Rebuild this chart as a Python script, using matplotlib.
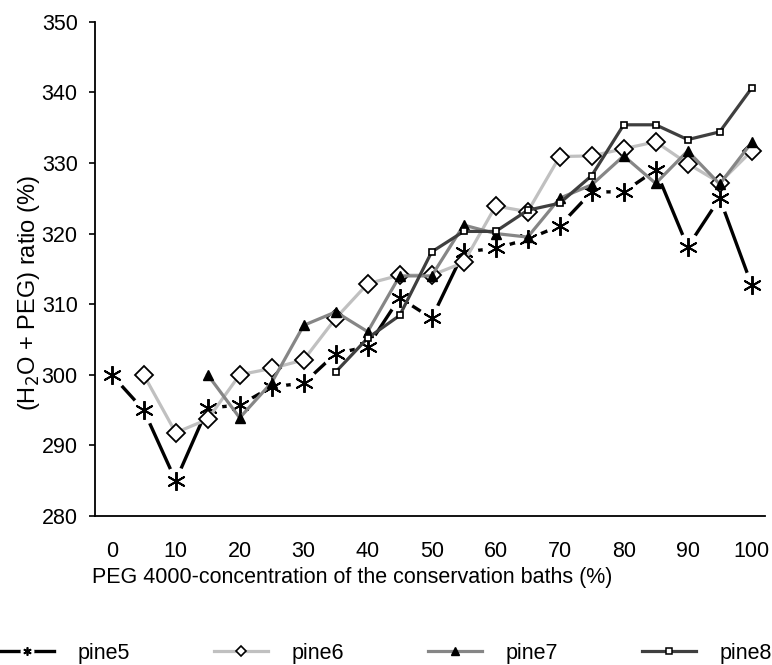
import numpy as np
import matplotlib
matplotlib.use("Agg")
import matplotlib.pyplot as plt
from matplotlib.lines import Line2D
from matplotlib.legend_handler import HandlerTuple

plt.rcParams['font.family'] = ['Liberation Sans', 'DejaVu Sans']

# ==============================
# Data
# ==============================
conc = [0, 5, 10, 15, 20, 25, 30, 35, 40, 45, 50, 55, 60, 65, 70, 75, 80, 85, 90, 95, 100]
nan = np.nan
pine5 = [300, 295, 285, 295.3, 295.7, 298.3, 298.8, 303, 304, 310.9, 308, 317.4, 317.9,
         319.2, 321.1, 325.9, 325.9, 329, 318.1, 325, 312.7]
pine6 = [nan, 300, 291.8, 293.7, 300, 300.9, 302.1, 308, 312.9, 314.1, 314.1, 315.9, 323.9,
         323.1, 330.9, 331, 332, 333, 329.9, 327.2, 331.7]
pine7 = [nan, nan, nan, 300, 293.9, 298.9, 307, 308.9, 306.1, 314, 314, 321.2, 320,
         319.5, 325, 326.9, 331, 327.1, 331.7, 327, 332.9]
pine8 = [nan, nan, nan, nan, nan, nan, nan, 300.4, 305.2, 308.4, 317.4, 320.3, 320.3,
         323.3, 324.3, 328.2, 335.4, 335.4, 333.3, 334.4, 340.6]

y_ticks = [280, 290, 300, 310, 320, 330, 340, 350]
x_ticks = [0, 10, 20, 30, 40, 50, 60, 70, 80, 90, 100]

FS = 15.5
ASTER = (6, 2, 0)

# ==============================
# Figure
# ==============================
fig = plt.figure(figsize=(7.72, 6.65), dpi=100)
ax = fig.add_axes([95 / 772, 1 - 516 / 665, 670 / 772, 494.3 / 665])

# pine5: black line, white gap around each asterisk
ax.plot(conc, pine5, color='black', lw=2.4, zorder=2)
ax.plot(conc, pine5, ls='none', marker='o', ms=20, mfc='white', mec='none', zorder=2.1)
ax.plot(conc, pine5, ls='none', marker=ASTER, ms=13.5, mec='black', mew=1.4, zorder=2.2)

ax.plot(conc, pine6, color='#c0c0c0', lw=2.3, marker='D', ms=9.5,
        mfc='white', mec='black', mew=1.3, zorder=3)
ax.plot(conc, pine7, color='#868686', lw=2.3, marker='^', ms=6.5,
        mfc='black', mec='black', zorder=4)
ax.plot(conc, pine8, color='#3f3f3f', lw=2.3, marker='s', ms=5,
        mfc='white', mec='black', mew=1.2, zorder=5)

# ==============================
# Axes styling
# ==============================
ax.set_xlim(-2.61, 102.08)
ax.set_ylim(280, 350)
ax.set_yticks(y_ticks)
ax.set_xticks(x_ticks)
for s in ['top', 'right']:
    ax.spines[s].set_visible(False)
for s in ['left', 'bottom']:
    ax.spines[s].set_linewidth(1.3)
ax.tick_params(axis='y', direction='out', length=4.5, width=1.2, pad=8, labelsize=FS)
ax.tick_params(axis='x', length=0, pad=18, labelsize=FS)

fig.text(92 / 772, 1 - 578 / 665, 'PEG 4000-concentration of the conservation baths (%)',
         ha='left', va='center', fontsize=FS)
fig.text(29 / 772, 1 - 293 / 665, '(H$_2$O + PEG) ratio (%)',
         ha='center', va='center', rotation=90, fontsize=17)

# ==============================
# Legend
# ==============================
h5 = (Line2D([], [], color='black', lw=2.4),
      Line2D([], [], ls='none', marker='o', ms=10, mfc='white', mec='none'),
      Line2D([], [], ls='none', marker=ASTER, ms=6, mec='black', mew=1.2))
h6 = Line2D([], [], color='#c0c0c0', lw=2.3, marker='D', ms=5.5, mfc='white', mec='black', mew=1.2)
h7 = Line2D([], [], color='#868686', lw=2.3, marker='^', ms=6, mfc='black', mec='black')
h8 = Line2D([], [], color='#3f3f3f', lw=2.3, marker='s', ms=4.5, mfc='white', mec='black', mew=1.1)

fig.legend([h5, h6, h7, h8], ['pine5', 'pine6', 'pine7', 'pine8'],
           handler_map={tuple: HandlerTuple(ndivide=1)},
           loc='center left', bbox_to_anchor=(0.0, 1 - 653 / 665), ncol=4,
           frameon=False, fontsize=FS, handlelength=2.5, handletextpad=1.1,
           columnspacing=3.9, borderaxespad=0, borderpad=0)

fig.savefig('out.png', dpi=100)
